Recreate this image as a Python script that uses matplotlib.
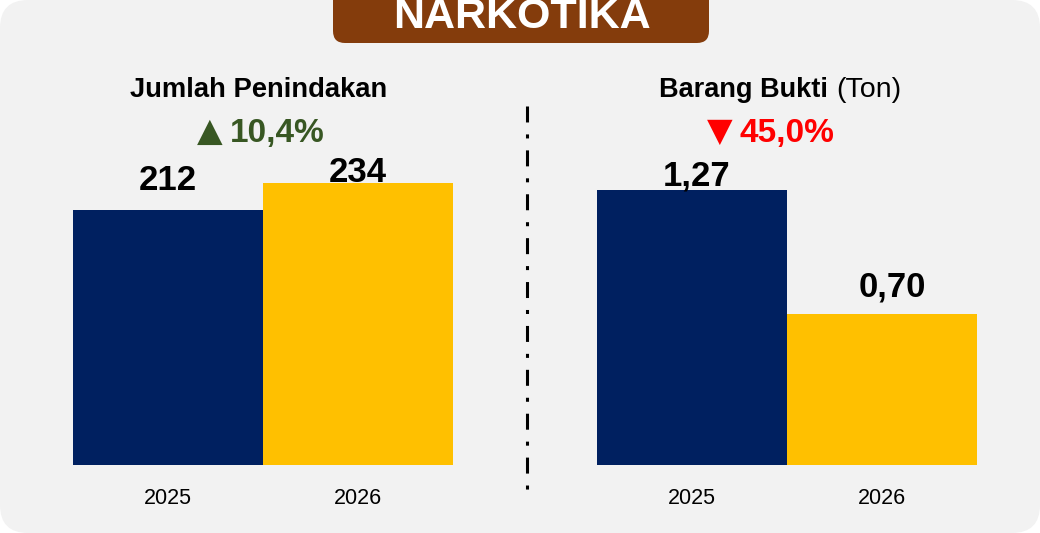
import matplotlib
matplotlib.use("Agg")
import matplotlib.pyplot as plt
from matplotlib.patches import FancyBboxPatch
from matplotlib.lines import Line2D
from matplotlib.transforms import IdentityTransform

plt.rcParams['lines.scale_dashes'] = False

# ---- data ----
years = ["2025", "2026"]
penindakan = [212, 234]
penindakan_labels = ["212", "234"]
barang_bukti = [1.27, 0.70]
barang_bukti_labels = ["1,27", "0,70"]
title_main = "NARKOTIKA"
title_left = "Jumlah Penindakan"
arrow_left = "▲"
change_left = "10,4%"
title_right_bold = "Barang Bukti"
title_right_reg = "(Ton)"
arrow_right = "▼"
change_right = "45,0%"

NAVY = "#002060"
YELLOW = "#FFC000"
BROWN = "#843C0C"
GREEN = "#385723"
RED = "#FF0000"
BG = "#F2F2F2"

FONT = ["Liberation Sans Narrow", "Liberation Sans", "DejaVu Sans"]
W, H = 1040, 533

fig = plt.figure(figsize=(W / 100, H / 100), dpi=100, facecolor="white")

def px(x, y):
    return x / W, 1 - y / H

# rounded grey background (pixel coords)
bg = FancyBboxPatch((28, 28), W - 56, H - 56,
                    boxstyle="round,pad=28,rounding_size=28",
                    transform=IdentityTransform(), facecolor=BG, edgecolor="none", zorder=-2)
fig.patches.append(bg)

# header box
hb = FancyBboxPatch((333 + 12, H - 43 + 12), 376 - 24, 60,
                    boxstyle="round,pad=12,rounding_size=12",
                    transform=IdentityTransform(), facecolor=BROWN, edgecolor="none", zorder=-1)
fig.patches.append(hb)
fig.text(*px(522, 28), title_main, ha="center", va="baseline", color="white",
         fontsize=31, fontweight="bold", family=FONT, zorder=2)

def make_axes(x0, x1, ytop, ybot):
    ax = fig.add_axes([x0 / W, 1 - ybot / H, (x1 - x0) / W, (ybot - ytop) / H])
    ax.set_facecolor("none")
    for s in ax.spines.values():
        s.set_visible(False)
    ax.set_yticks([])
    ax.tick_params(axis="x", length=0, pad=16.5)
    return ax

colors = [NAVY, YELLOW]

# left panel
axl = make_axes(73, 453, 100, 465)
axl.bar(range(len(years)), penindakan, width=1.0, color=colors)
axl.set_xlim(-0.5, 1.5)
axl.set_ylim(0, 302.9)
axl.set_xticks(range(len(years)))
axl.set_xticklabels(years, fontsize=15.5, family=FONT)
for i, (v, lab, off) in enumerate(zip(penindakan, penindakan_labels, [(0, 14.4), (0, 1)])):
    axl.annotate(lab, (i, v), xytext=off, textcoords="offset points", ha="center",
                 va="baseline", fontsize=25, fontweight="bold", family=FONT)

# right panel
axr = make_axes(597, 977, 100, 465)
axr.bar(range(len(years)), barang_bukti, width=1.0, color=colors)
axr.set_xlim(-0.5, 1.5)
axr.set_ylim(0, 1.6875)
axr.set_xticks(range(len(years)))
axr.set_xticklabels(years, fontsize=15.5, family=FONT)
for i, (v, lab, off) in enumerate(zip(barang_bukti, barang_bukti_labels, [(3.6, 3.6), (7.5, 12)])):
    axr.annotate(lab, (i, v), xytext=off, textcoords="offset points", ha="center",
                 va="baseline", fontsize=25, fontweight="bold", family=FONT)

# titles
fig.text(*px(259, 97), title_left, ha="center", va="baseline", fontsize=19.7,
         fontweight="bold", family=FONT)
fig.text(*px(210, 141), arrow_left, ha="center", va="baseline", fontsize=24,
         color=GREEN, family=["DejaVu Sans"])
fig.text(*px(230, 142), change_left, ha="left", va="baseline", fontsize=24,
         fontweight="bold", color=GREEN, family=FONT)
fig.text(*px(828, 97), title_right_bold, ha="right", va="baseline", fontsize=19.5,
         fontweight="bold", family=FONT)
fig.text(*px(836, 97), title_right_reg, ha="left", va="baseline", fontsize=20.5,
         family=FONT)
fig.text(*px(720, 141), arrow_right, ha="center", va="baseline", fontsize=24,
         color=RED, family=["DejaVu Sans"])
fig.text(*px(740, 142), change_right, ha="left", va="baseline", fontsize=24,
         fontweight="bold", color=RED, family=FONT)

# dash-dot separator
line = Line2D([527 / W, 527 / W], [1 - 106 / H, 1 - 493 / H], transform=fig.transFigure,
              color="black", linewidth=2.2, dashes=(11.5, 8.6, 2.9, 8.6),
              solid_capstyle="butt", dash_capstyle="butt")
fig.lines.append(line)

fig.savefig("out.png", dpi=100, facecolor="white")
